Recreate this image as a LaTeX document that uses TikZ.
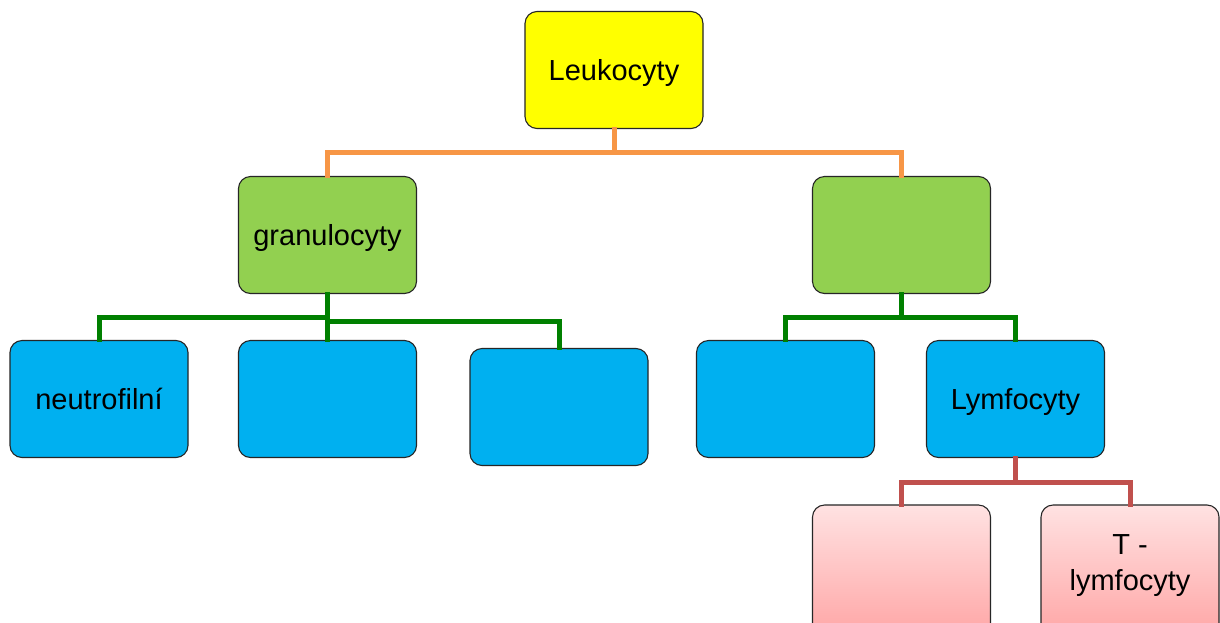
\documentclass[tikz,border=0pt]{standalone}
\usepackage{fontspec}
\setmainfont{Liberation Sans}
\definecolor{cyellow}{RGB}{255,255,0}
\definecolor{cgreen}{RGB}{146,208,80}
\definecolor{cblue}{RGB}{0,176,240}
\definecolor{corange}{RGB}{247,150,70}
\definecolor{cdgreen}{RGB}{0,128,0}
\definecolor{cred}{RGB}{192,80,77}
\definecolor{pinktop}{RGB}{255,226,226}
\definecolor{pinkbot}{RGB}{255,164,164}
\begin{document}
\begin{tikzpicture}[x=1pt,y=-1pt,
  box/.style={draw=black!85,line width=1.1pt,rounded corners=12pt,minimum width=178pt,minimum height=117pt,inner sep=4pt,align=center,font=\fontsize{29}{36}\selectfont,text height=20pt,text depth=0pt},
  ybox/.style={box,fill=cyellow},
  gbox/.style={box,fill=cgreen},
  bbox/.style={box,fill=cblue},
  pbox/.style={box,minimum height=135pt,top color=pinktop,bottom color=pinkbot},
  conn/.style={line width=5pt,line cap=rect}
]
\useasboundingbox (0,0) rectangle (1220,622);
\fill[white] (0,0) rectangle (1220,622);
\begin{scope}
\clip (0,0) rectangle (1220,622);
\node[ybox] (L) at (614,70) {Leukocyty};
\node[gbox] (G1) at (327.5,235) {granulocyty};
\node[gbox] (G2) at (901.5,235) {};
\node[bbox] (B1) at (99,399) {neutrofilní};
\node[bbox] (B2) at (327.5,399) {};
\node[bbox] (B3) at (559,407) {};
\node[bbox] (B4) at (785.5,399) {};
\node[bbox] (B5) at (1015.5,399) {Lymfocyty};
\node[pbox] (P1) at (901.5,572.5) {};
\node[pbox,text height=50pt,text depth=15pt] (P2) at (1130,572.5) {T -\\lymfocyty};

\coordinate (yo) at (0,152);
\coordinate (yg1) at (0,317);
\coordinate (yg2) at (0,321);
\coordinate (yg3) at (0,317);
\coordinate (yr) at (0,482);

\draw[conn,corange] (L.south) -- (L.south |- yo) -| (G1.north);
\draw[conn,corange] (L.south |- yo) -| (G2.north);

\draw[conn,cdgreen] (G1.south) -- (B2.north);
\draw[conn,cdgreen] (G1.south |- yg1) -| (B1.north);
\draw[conn,cdgreen] (G1.south |- yg2) -| (B3.north);

\draw[conn,cdgreen] (G2.south) -- (G2.south |- yg3) -| (B4.north);
\draw[conn,cdgreen] (G2.south |- yg3) -| (B5.north);

\draw[conn,cred] (B5.south) -- (B5.south |- yr) -| (P1.north);
\draw[conn,cred] (B5.south |- yr) -| (P2.north);
\end{scope}
\end{tikzpicture}
\end{document}
